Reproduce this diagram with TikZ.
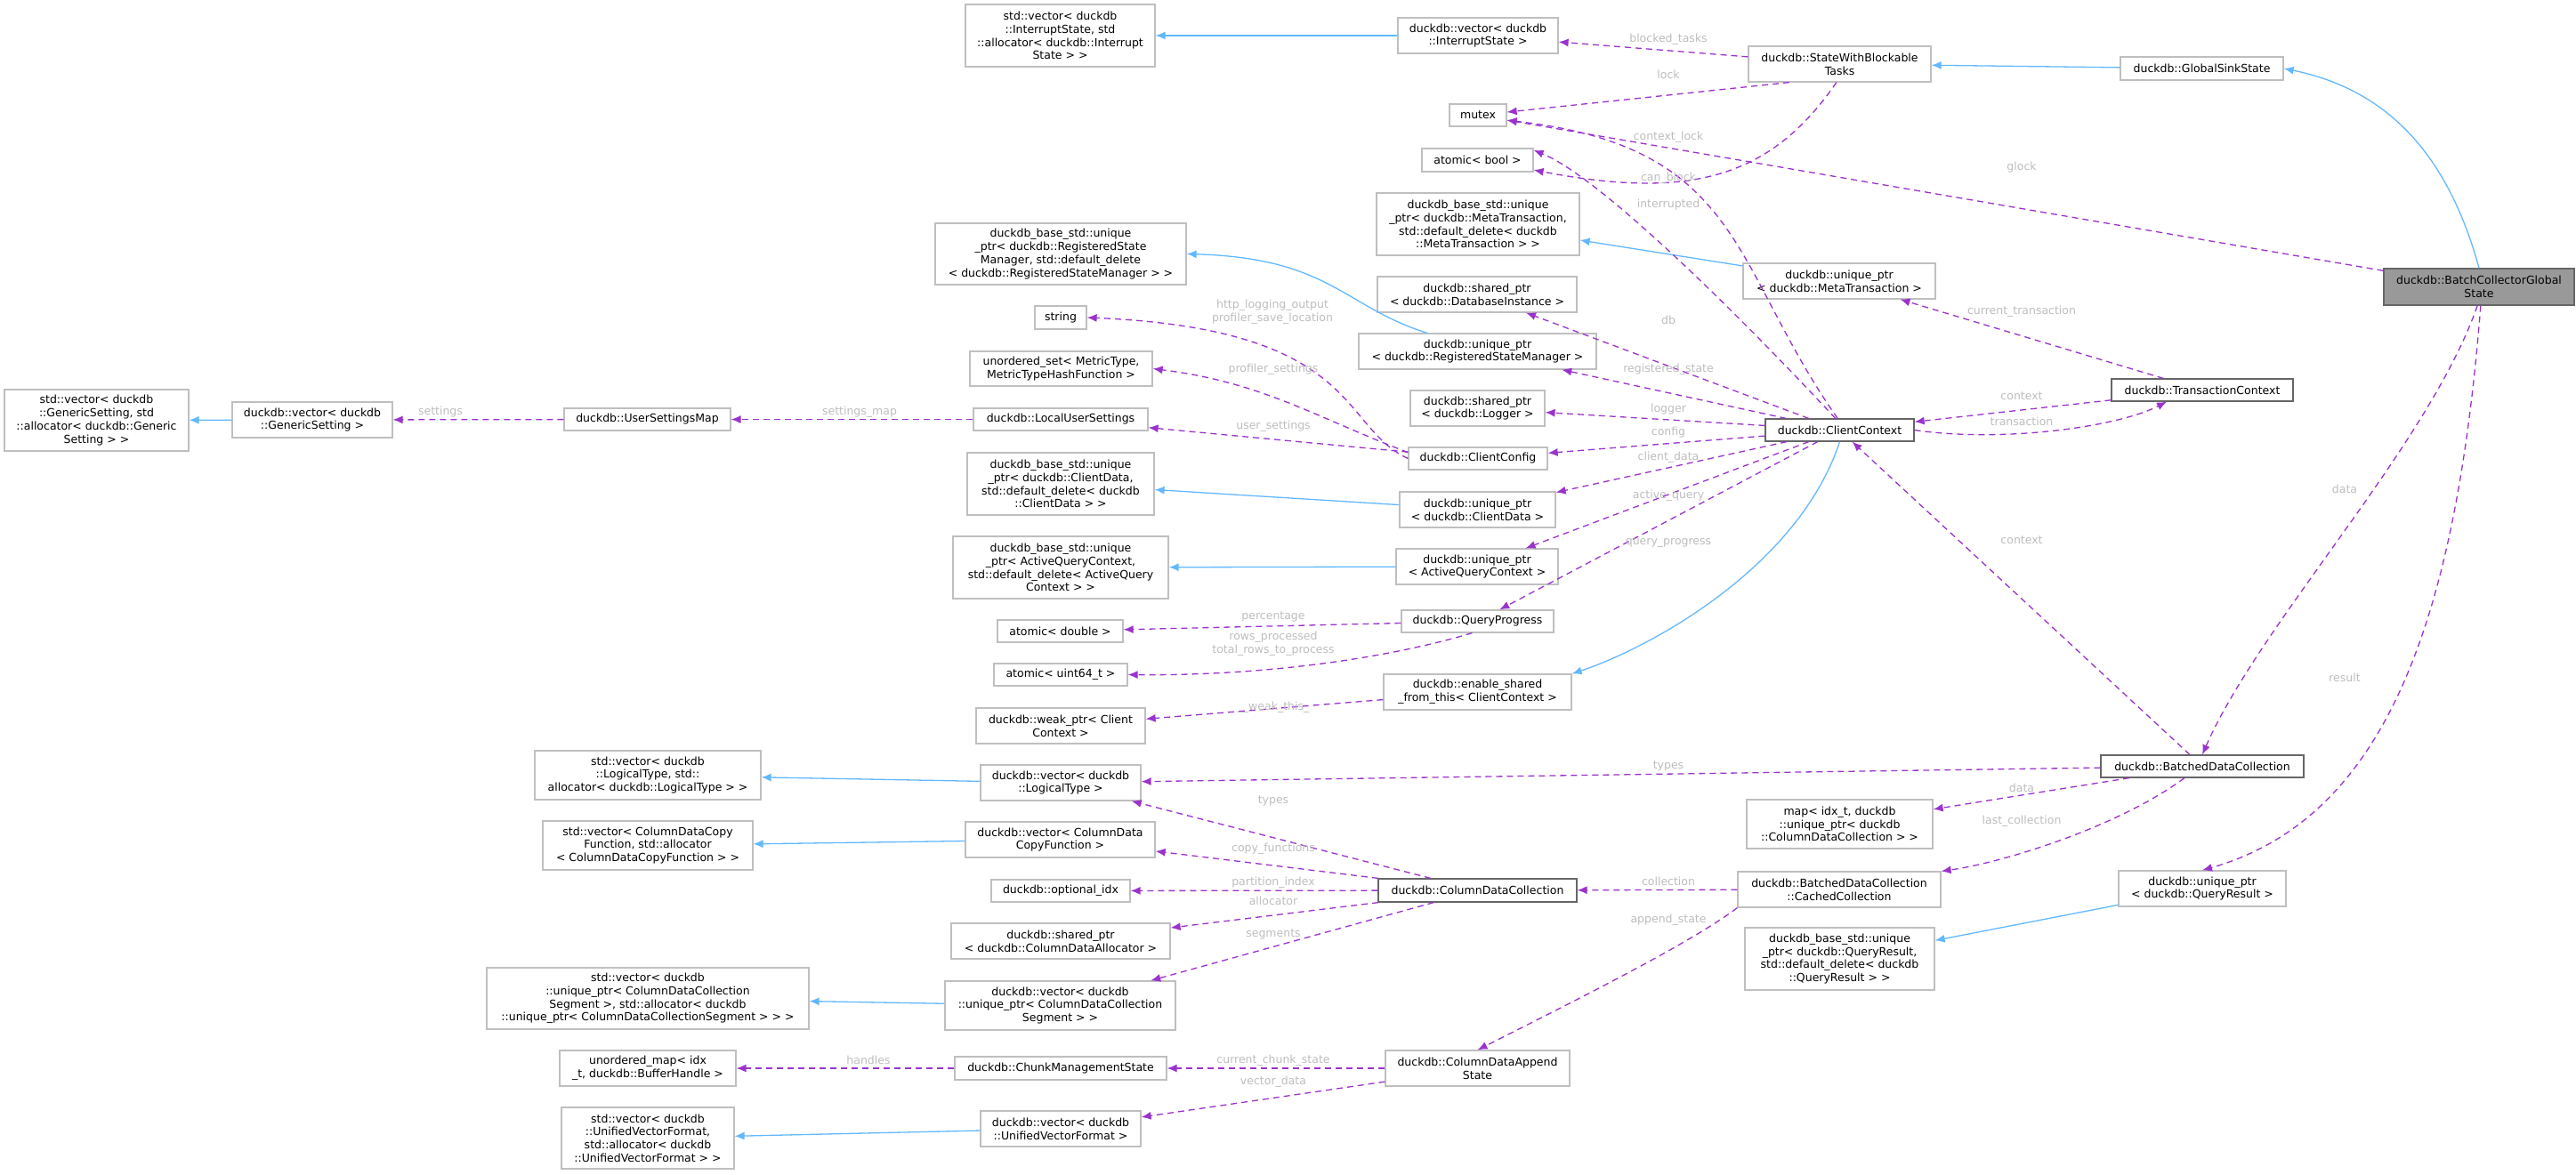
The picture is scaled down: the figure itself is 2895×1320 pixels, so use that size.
\documentclass[tikz,border=0pt]{standalone}
\usepackage{fontspec}
\setmainfont{DejaVu Sans}
\usetikzlibrary{arrows.meta,calc}
\definecolor{inh}{HTML}{63B8FF}
\definecolor{dep}{HTML}{9A32CD}
\definecolor{lblc}{HTML}{BDBDBD}
\definecolor{bord}{HTML}{BFBFBF}
\definecolor{dark}{HTML}{666666}
\definecolor{gfill}{HTML}{999999}
\newcommand\nd[7]{\node[#1,minimum width=#5pt,minimum height=#6pt] (#2) at (#3,#4) {#7};}
\begin{document}
\begin{tikzpicture}[x=1pt,y=-1pt,
 font=\fontsize{12.5}{14.7}\selectfont,
 box/.style={draw=bord,line width=1.2pt,fill=white,align=center,inner sep=2pt},
 dbox/.style={box,draw=dark},
 inhe/.style={draw=inh,line width=1.3pt,-{Latex[length=11pt,width=9pt]}},
 depe/.style={draw=dep,line width=1.3pt,dash pattern=on 7pt off 5pt,-{Latex[length=11pt,width=9pt]}},
 lbl/.style={text=lblc,inner sep=1pt,align=center}]
\useasboundingbox (0,0) rectangle (2895,1320);
% nodes
\nd{box}{stdvecGS}{108.5}{472.5}{207}{69}{std::vector< duckdb\\::GenericSetting, std\\::allocator< duckdb::Generic\\Setting > >}
\nd{box}{vecGS}{351}{472}{180}{40}{duckdb::vector< duckdb\\::GenericSetting >}
\nd{box}{USM}{727.5}{471.5}{187}{25}{duckdb::UserSettingsMap}
\nd{box}{stdvecIS}{1191.5}{40}{213}{70}{std::vector< duckdb\\::InterruptState, std\\::allocator< duckdb::Interrupt\\State > >}
\nd{box}{vecIS}{1661}{40}{180}{40}{duckdb::vector< duckdb\\::InterruptState >}
\nd{box}{mutex}{1661}{129.5}{64}{25}{mutex}
\nd{box}{atomicbool}{1660.5}{180}{125}{26}{atomic< bool >}
\nd{box}{baseMeta}{1661}{252}{228}{70}{duckdb\_base\_std::unique\\\_ptr< duckdb::MetaTransaction,\\std::default\_delete< duckdb\\::MetaTransaction > >}
\nd{box}{baseRSM}{1192}{285.5}{282}{69}{duckdb\_base\_std::unique\\\_ptr< duckdb::RegisteredState\\Manager, std::default\_delete\\< duckdb::RegisteredStateManager > >}
\nd{box}{sharedDB}{1660}{331}{224}{40}{duckdb::shared\_ptr\\< duckdb::DatabaseInstance >}
\nd{box}{string}{1192}{357}{58}{26}{string}
\nd{box}{uniqueRSM}{1660.5}{395}{267}{40}{duckdb::unique\_ptr\\< duckdb::RegisteredStateManager >}
\nd{box}{uset}{1192.5}{414.5}{205}{39}{unordered\_set< MetricType,\\MetricTypeHashFunction >}
\nd{box}{sharedLogger}{1660.5}{459}{151}{40}{duckdb::shared\_ptr\\< duckdb::Logger >}
\nd{box}{LUS}{1192}{471.5}{196}{25}{duckdb::LocalUserSettings}
\nd{box}{ClientConfig}{1661}{515.5}{156}{25}{duckdb::ClientConfig}
\nd{box}{baseCD}{1192}{544}{210}{70}{duckdb\_base\_std::unique\\\_ptr< duckdb::ClientData,\\std::default\_delete< duckdb\\::ClientData > >}
\nd{box}{uniqueCD}{1660.5}{573}{175}{40}{duckdb::unique\_ptr\\< duckdb::ClientData >}
\nd{box}{baseAQC}{1192}{638}{242}{70}{duckdb\_base\_std::unique\\\_ptr< ActiveQueryContext,\\std::default\_delete< ActiveQuery\\Context > >}
\nd{box}{uniqueAQC}{1660}{637}{182}{40}{duckdb::unique\_ptr\\< ActiveQueryContext >}
\nd{box}{SWBT}{2067.5}{72}{205}{40}{duckdb::StateWithBlockable\\Tasks}
\nd{box}{GSS}{2474.5}{77}{183}{26}{duckdb::GlobalSinkState}
\nd{box}{uniqueMeta}{2067}{316}{216}{40}{duckdb::unique\_ptr\\< duckdb::MetaTransaction >}
\nd{dbox}{TC}{2475}{438.5}{204}{25}{duckdb::TransactionContext}
\nd{dbox}{CC}{2067.5}{483.5}{167}{25}{duckdb::ClientContext}
\nd{box}{stdvecLT}{728}{871.5}{254}{55}{std::vector< duckdb\\::LogicalType, std::\\allocator< duckdb::LogicalType > >}
\nd{box}{stdvecCDC}{728}{950.5}{236}{55}{std::vector< ColumnDataCopy\\Function, std::allocator\\< ColumnDataCopyFunction > >}
\nd{box}{stdvecSeg}{728}{1122.5}{362}{69}{std::vector< duckdb\\::unique\_ptr< ColumnDataCollection\\Segment >, std::allocator< duckdb\\::unique\_ptr< ColumnDataCollectionSegment > > >}
\nd{box}{umapBH}{728}{1201}{198}{40}{unordered\_map< idx\\\_t, duckdb::BufferHandle >}
\nd{box}{stdvecUVF}{728}{1279.5}{194}{69}{std::vector< duckdb\\::UnifiedVectorFormat,\\std::allocator< duckdb\\::UnifiedVectorFormat > >}
\nd{box}{QP}{1660.5}{698.5}{171}{25}{duckdb::QueryProgress}
\nd{box}{atomicdouble}{1191.5}{709.5}{141}{25}{atomic< double >}
\nd{box}{atomicu64}{1192}{758.5}{150}{25}{atomic< uint64\_t >}
\nd{box}{ESFT}{1660.5}{778}{211}{40}{duckdb::enable\_shared\\\_from\_this< ClientContext >}
\nd{box}{weakptr}{1192}{816}{190}{40}{duckdb::weak\_ptr< Client\\Context >}
\nd{box}{vecLT}{1192}{880}{180}{40}{duckdb::vector< duckdb\\::LogicalType >}
\nd{box}{vecCDC}{1191.5}{944}{213}{40}{duckdb::vector< ColumnData\\CopyFunction >}
\nd{box}{optidx}{1192}{1001.5}{156}{25}{duckdb::optional\_idx}
\nd{dbox}{CDC}{1660.5}{1001}{223}{26}{duckdb::ColumnDataCollection}
\nd{box}{sharedAlloc}{1192}{1058}{246}{40}{duckdb::shared\_ptr\\< duckdb::ColumnDataAllocator >}
\nd{box}{vecSeg}{1191.5}{1130.5}{259}{55}{duckdb::vector< duckdb\\::unique\_ptr< ColumnDataCollection\\Segment > >}
\nd{box}{CMS}{1192}{1201}{238}{26}{duckdb::ChunkManagementState}
\nd{box}{CDAS}{1660.5}{1201}{207}{40}{duckdb::ColumnDataAppend\\State}
\nd{box}{vecUVF}{1192}{1269}{180}{40}{duckdb::vector< duckdb\\::UnifiedVectorFormat >}
\nd{dbox}{BDC}{2475}{861.5}{228}{25}{duckdb::BatchedDataCollection}
\nd{box}{mapCDC}{2067.5}{926.5}{209}{55}{map< idx\_t, duckdb\\::unique\_ptr< duckdb\\::ColumnDataCollection > >}
\nd{box}{CachedColl}{2067}{1000}{228}{40}{duckdb::BatchedDataCollection\\::CachedCollection}
\nd{box}{uniqueQR}{2475}{999}{188}{40}{duckdb::unique\_ptr\\< duckdb::QueryResult >}
\nd{box}{baseQR}{2067.5}{1078}{213}{70}{duckdb\_base\_std::unique\\\_ptr< duckdb::QueryResult,\\std::default\_delete< duckdb\\::QueryResult > >}
\nd{box,fill=gfill,draw=dark}{BCGS}{2786}{322.5}{214}{41}{duckdb::BatchCollectorGlobal\\State}
% inheritance
\begin{scope}[on background layer/.try]
\end{scope}
\draw[inhe] (vecGS) -- (stdvecGS);
\draw[inhe] (vecIS) -- (stdvecIS);
\draw[inhe] (uniqueMeta) -- (baseMeta);
\draw[inhe] (uniqueRSM.160) .. controls (1510,345) and (1495,290) .. (baseRSM.east);
\draw[inhe] (uniqueCD) -- (baseCD);
\draw[inhe] (uniqueAQC) -- (baseAQC);
\draw[inhe] (GSS) -- (SWBT);
\draw[inhe] (BCGS.north) .. controls (2750,170) and (2680,100) .. (GSS.east);
\draw[inhe] (CC.south) .. controls (2020,640) and (1850,730) .. (ESFT.north east);
\draw[inhe] (vecLT) -- (stdvecLT);
\draw[inhe] (vecCDC) -- (stdvecCDC);
\draw[inhe] (vecSeg) -- (stdvecSeg);
\draw[inhe] (vecUVF) -- (stdvecUVF);
\draw[inhe] (uniqueQR) -- (baseQR);
% dependencies
\draw[depe] (USM) -- (vecGS);
\draw[depe] (LUS) -- (USM);
\draw[depe] (SWBT) -- (vecIS);
\draw[depe] (SWBT.200) -- (mutex);
\draw[depe] (CC.100) .. controls (1945,300) and (1960,165) .. (mutex.-10);
\draw[depe] (BCGS) -- (mutex);
\draw[depe] (SWBT.-100) .. controls (1990,200) and (1900,225) .. (atomicbool.-10);
\draw[depe] (CC.110) .. controls (1960,360) and (1800,200) .. (atomicbool.10);
\draw[depe] (ClientConfig.west) .. controls (1505,480) and (1530,370) .. (string.east);
\draw[depe] (ClientConfig.175) .. controls (1480,470) and (1420,430) .. (uset.east);
\draw[depe] (ClientConfig) -- (LUS);
\draw[depe] (CC) -- (sharedDB);
\draw[depe] (CC) -- (uniqueRSM);
\draw[depe] (CC) -- (sharedLogger);
\draw[depe] (CC) -- (ClientConfig);
\draw[depe] (CC) -- (uniqueCD);
\draw[depe] (CC) -- (uniqueAQC);
\draw[depe] (CC) -- (QP);
\draw[depe] (QP) -- (atomicdouble);
\draw[depe] (QP.-115) .. controls (1560,740) and (1420,760) .. (atomicu64.east);
\draw[depe] (ESFT) -- (weakptr);
\draw[depe] (TC) -- (uniqueMeta);
\draw[depe] (TC) -- (CC);
\draw[depe] (CC.east) .. controls (2250,498) and (2380,480) .. ($(TC.south)+(-40,0)$);
\draw[depe] (BDC) -- (CC);
\draw[depe] (BCGS.-95) .. controls (2730,500) and (2540,700) .. (BDC.north);
\draw[depe] (BCGS.-85) .. controls (2760,700) and (2680,920) .. (uniqueQR.north);
\draw[depe] (BDC) -- (vecLT);
\draw[depe] (CDC) -- (vecLT);
\draw[depe] (BDC) -- (mapCDC);
\draw[depe] ($(BDC.south)+(-20,0)$) .. controls (2380,930) and (2250,970) .. (CachedColl.north east);
\draw[depe] (CachedColl) -- (CDC);
\draw[depe] (CachedColl.south west) .. controls (1900,1060) and (1780,1120) .. (CDAS.north);
\draw[depe] (CDC) -- (vecCDC);
\draw[depe] (CDC) -- (optidx);
\draw[depe] (CDC) -- (sharedAlloc);
\draw[depe] (CDC) -- (vecSeg);
\draw[depe] (CMS) -- (umapBH);
\draw[depe] (CDAS) -- (CMS);
\draw[depe] (CDAS) -- (vecUVF);
% labels
\node[lbl] (l1) at (495,463) {settings};
\node[lbl] (l2) at (966,463) {settings\_map};
\node[lbl] (l3) at (1875,44) {blocked\_tasks};
\node[lbl] (l4) at (1875,84) {lock};
\node[lbl] (l5) at (1875,154) {context\_lock};
\node[lbl] (l6) at (1875,200) {can\_block};
\node[lbl] (l7) at (1875,230) {interrupted};
\node[lbl] (l8) at (2272,188) {glock};
\node[lbl] (l9) at (1430,351) {http\_logging\_output\\profiler\_save\_location};
\node[lbl] (l10) at (1431,415) {profiler\_settings};
\node[lbl] (l11) at (1431,479) {user\_settings};
\node[lbl] (l12) at (1875,360) {db};
\node[lbl] (l13) at (1875,415) {registered\_state};
\node[lbl] (l14) at (1875,460) {logger};
\node[lbl] (l15) at (1875,486) {config};
\node[lbl] (l16) at (1875,514) {client\_data};
\node[lbl] (l17) at (1875,557) {active\_query};
\node[lbl] (l18) at (1875,610) {query\_progress};
\node[lbl] (l19) at (2272,350) {current\_transaction};
\node[lbl] (l20) at (2272,445) {context};
\node[lbl] (l21) at (2272,474) {transaction};
\node[lbl] (l22) at (2272,607) {context};
\node[lbl] (l23) at (2635,550) {data};
\node[lbl] (l24) at (2635,762) {result};
\node[lbl] (l25) at (1431,693) {percentage};
\node[lbl] (l26) at (1431,724) {rows\_processed\\total\_rows\_to\_process};
\node[lbl] (l27) at (1431,795) {\_\_weak\_this\_};
\node[lbl] (l28) at (1875,861) {types};
\node[lbl] (l29) at (1431,900) {types};
\node[lbl] (l30) at (1431,954) {copy\_functions};
\node[lbl] (l31) at (1431,992) {partition\_index};
\node[lbl] (l32) at (1431,1013) {allocator};
\node[lbl] (l33) at (1431,1050) {segments};
\node[lbl] (l34) at (1875,991) {collection};
\node[lbl] (l35) at (1875,1034) {append\_state};
\node[lbl] (l36) at (2272,886) {data};
\node[lbl] (l37) at (2272,923) {last\_collection};
\node[lbl] (l38) at (976,1192) {handles};
\node[lbl] (l39) at (1431,1192) {current\_chunk\_state};
\node[lbl] (l40) at (1431,1216) {vector\_data};
\end{tikzpicture}
\end{document}
